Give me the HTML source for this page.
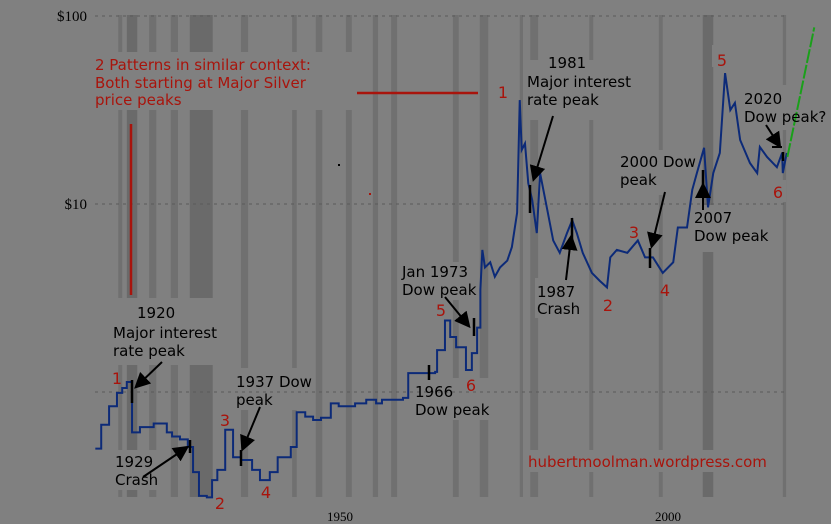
<!DOCTYPE html>
<html><head><meta charset="utf-8"><style>
body{margin:0;background:#808080;}
svg{display:block;}
.ann{font-family:"DejaVu Sans","Liberation Sans",sans-serif;font-size:15px;fill:#000;}
.red{font-family:"DejaVu Sans","Liberation Sans",sans-serif;font-size:15px;fill:#a8140c;}
.num{font-family:"DejaVu Sans","Liberation Sans",sans-serif;font-size:16px;fill:#a8140c;}
.ax{font-family:"Liberation Serif",serif;fill:#000;}
</style></head><body>
<svg id="chart" width="831" height="524" viewBox="0 0 831 524">
<defs><marker id="ah" markerWidth="8" markerHeight="8" refX="6" refY="4" orient="auto"><path d="M0,0 L8,4 L0,8 Z" fill="#000"/></marker></defs>
<rect width="831" height="524" fill="#808080"/>
<g id="bands"></g>
<g id="gaps" fill="#808080">
<rect x="95" y="52" width="265" height="58"/><rect x="525" y="60" width="108" height="60"/>
<rect x="615" y="150" width="85" height="45"/><rect x="692" y="205" width="78" height="47"/>
<rect x="740" y="85" width="60" height="45"/><rect x="110" y="298" width="110" height="67"/>
<rect x="112" y="450" width="50" height="40"/><rect x="233" y="368" width="82" height="42"/>
<rect x="412" y="378" width="78" height="42"/><rect x="400" y="262" width="78" height="38"/>
<rect x="535" y="278" width="50" height="40"/><rect x="525" y="450" width="245" height="22"/>
<rect x="770" y="180" width="16" height="22"/><rect x="712" y="45" width="20" height="22"/>
</g>
<g id="grid"></g>
<g id="axes"></g>
<line x1="131" y1="124" x2="131" y2="295" stroke="#a8140c" stroke-width="2.5"/>
<line x1="357" y1="93" x2="478" y2="93" stroke="#a8140c" stroke-width="2.5"/>
<rect x="338" y="164" width="2" height="2" fill="#000"/>
<rect x="369" y="193" width="2" height="2" fill="#a8140c"/>
<path id="series" fill="none" stroke="#0c2a78" stroke-width="2"/>
<path id="proj" fill="none" stroke="#1aa01a" stroke-width="2" stroke-dasharray="14,2"/>
<g stroke="#000" stroke-width="2.5">
<line x1="132" y1="380" x2="132" y2="403"/><line x1="190" y1="440" x2="190" y2="453"/><line x1="241" y1="450" x2="241" y2="466"/>
<line x1="429" y1="365" x2="429" y2="380"/><line x1="474" y1="318" x2="474" y2="336"/><line x1="530" y1="185" x2="530" y2="213"/>
<line x1="572" y1="218" x2="572" y2="245"/><line x1="650" y1="248" x2="650" y2="268"/><line x1="703" y1="170" x2="703" y2="186"/>
<line x1="783" y1="152" x2="783" y2="161"/></g>
<g stroke="#000" stroke-width="2" marker-end="url(#ah)">
<line x1="553" y1="116" x2="534" y2="178"/><line x1="566" y1="280" x2="571" y2="238"/><line x1="665" y1="192" x2="652" y2="245"/>
<line x1="703" y1="210" x2="703" y2="186"/><line x1="766" y1="125" x2="779" y2="145"/><line x1="445" y1="297" x2="468" y2="325"/>
<line x1="162" y1="362" x2="137" y2="386"/><line x1="260" y1="407" x2="243" y2="448"/><line x1="143" y1="477" x2="186" y2="448"/></g>
<line x1="772" y1="147" x2="782" y2="147" stroke="#000" stroke-width="2"/>
<g><text class="red" x="95" y="70">2 Patterns in similar context:</text><text class="red" x="95" y="88">Both starting at Major Silver</text><text class="red" x="95" y="105">price peaks</text></g>
<g class="num" text-anchor="middle">
<text x="117" y="384">1</text><text x="220" y="509">2</text><text x="225" y="426">3</text><text x="266" y="498">4</text><text x="441" y="316">5</text><text x="471" y="391">6</text>
<text x="503" y="98">1</text><text x="608" y="311">2</text><text x="634" y="238">3</text><text x="665" y="296">4</text><text x="722" y="66">5</text><text x="778" y="198">6</text></g>
<g class="ann">
<text x="548" y="68">1981</text><text x="527" y="87">Major interest</text><text x="527" y="105">rate peak</text>
<text x="620" y="167">2000 Dow</text><text x="620" y="185">peak</text>
<text x="694" y="223">2007</text><text x="694" y="241">Dow peak</text>
<text x="744" y="104">2020</text><text x="744" y="122">Dow peak?</text>
<text x="402" y="277">Jan 1973</text><text x="402" y="295">Dow peak</text>
<text x="537" y="297">1987</text><text x="537" y="314">Crash</text>
<text x="137" y="318">1920</text><text x="113" y="338">Major interest</text><text x="113" y="356">rate peak</text>
<text x="236" y="387">1937 Dow</text><text x="236" y="405">peak</text>
<text x="115" y="467">1929</text><text x="115" y="485">Crash</text>
<text x="415" y="397">1966</text><text x="415" y="415">Dow peak</text></g>
<text class="red" x="528" y="467">hubertmoolman.wordpress.com</text>
</svg>
<script>
const bandStarts=[1916.2,1917.5,1920.9,1924.2,1927.1,1934.9,1942.7,1946.3,1950.9,1955.0,1957.8,1967.2,1971.3,1977.4,1979.0,1988.0,1998.6,2005.3,2017.5];
const bandEnds=[1916.8,1919.1,1922.0,1925.3,1930.6,1936.0,1943.4,1947.3,1951.8,1955.8,1958.7,1968.1,1972.6,1977.9,1980.2,1988.6,1999.2,2006.9,2018.0];
const stepYears=[1912.7,1913.6,1914.8,1916.0,1916.8,1917.5,1918.3,1919.5,1921.6,1923.6,1924.4,1925.6,1926.8,1927.6,1928.5,1929.7,1930.5,1931.3,1932.5,1933.7,1934.9,1936.6,1937.8,1939.3,1940.5,1942.5,1943.4,1944.7,1945.9,1947.1,1948.6,1949.8,1952.3,1954.0,1955.5,1956.4,1959.6,1960.4,1964.5,1964.8,1966.0,1966.8,1967.7,1969.2,1970.1,1970.9,1971.4];
const stepPrices=[0.50,0.67,0.84,0.99,1.05,1.13,0.61,0.65,0.68,0.61,0.58,0.56,0.51,0.375,0.28,0.275,0.34,0.385,0.63,0.45,0.435,0.385,0.34,0.375,0.45,0.51,0.78,0.74,0.71,0.73,0.87,0.84,0.87,0.91,0.87,0.91,0.93,1.26,1.28,1.67,2.4,1.96,1.73,1.31,1.61,2.2,3.5];
const lineYears=[1971.7,1972.1,1972.9,1973.6,1974.4,1975.5,1976.2,1977.0,1977.4,1977.7,1978.2,1978.7,1979.3,1980.0,1980.5,1981.6,1982.5,1983.5,1984.6,1985.4,1986.1,1987.0,1988.4,1989.6,1990.7,1991.2,1992.2,1993.8,1995.4,1996.5,1997.7,1999.2,2000.8,2001.5,2002.9,2003.7,2004.4,2005.5,2006.1,2006.9,2007.9,2008.7,2009.5,2010.2,2011.0,2012.5,2013.6,2014.0,2015.1,2016.6,2017.4,2017.5,2018.1];
const linePrices=[5.7,4.6,4.9,4.1,4.6,5.0,5.9,9.0,35.7,19.4,21,12.9,10.5,7.0,14.6,9.3,6.4,5.5,7.0,8.2,7.0,5.5,4.3,3.9,3.6,5.2,5.7,5.5,6.4,5.2,5.2,4.3,4.9,7.5,7.5,11.9,14.6,19.9,9.6,14.6,18.7,49.7,31.6,34.5,21.9,16.5,14.6,20.1,17.8,15.7,18.7,14.6,18.7];
const projYears=[2018.2,2022.3];
const projPrices=[17.8,87];
const yTicks=[100,10,1];
const yTickLabels=["$100","$10",""];
const xTicks=[1950,2000];
const xTickLabels=["1950","2000"];

const X=y=>340+(y-1950)*6.56;
const Y=p=>392-188*Math.log10(p);
const NS="http://www.w3.org/2000/svg";
function mk(tag,parent,attrs){const e=document.createElementNS(NS,tag);for(const k in attrs)e.setAttribute(k,attrs[k]);parent.appendChild(e);return e;}
const bands=document.getElementById('bands');
bandStarts.forEach((s,i)=>{
  const r=mk('rect',bands,{x:X(s),y:15,width:Math.max(2,X(bandEnds[i])-X(s)),height:482,fill:(bandEnds[i]-s>1.5)?'#6a6a6a':'#707070'});
  
  
});
const grid=document.getElementById('grid'),axes=document.getElementById('axes');
yTicks.forEach((v,i)=>{
  const l=mk('line',grid,{x1:95,x2:785,y1:Y(v),y2:Y(v),stroke:'#5a5a5a','stroke-width':1,'stroke-dasharray':'3,4'});
  
  
  if(yTickLabels[i]){const t=mk('text',axes,{x:87,y:Y(v)+5,'text-anchor':'end','font-size':15,class:'ax'});t.textContent=yTickLabels[i];
  
  }
});
xTicks.forEach((v,i)=>{
  const t=mk('text',axes,{x:X(v),y:521,'text-anchor':'middle','font-size':13,class:'ax'});t.textContent=xTickLabels[i];
  
  
});
let d='M'+X(stepYears[0])+','+Y(stepPrices[0]);
for(let i=1;i<stepYears.length;i++){d+=' H'+X(stepYears[i])+' V'+Y(stepPrices[i]);}
for(let i=0;i<lineYears.length;i++){d+=' L'+X(lineYears[i])+','+Y(linePrices[i]);}
document.getElementById('series').setAttribute('d',d);
document.getElementById('proj').setAttribute('d','M'+X(projYears[0])+','+Y(projPrices[0])+' L'+X(projYears[1])+','+Y(projPrices[1]));
</script>
</body></html>
